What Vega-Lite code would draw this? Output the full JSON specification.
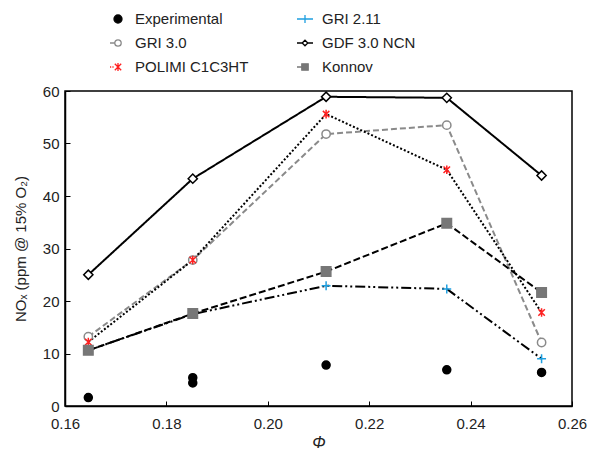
{
  "$schema": "https://vega.github.io/schema/vega-lite/v6.json",
  "width": 507,
  "height": 315,
  "autosize": {"type": "none"},
  "padding": {"left": 65, "top": 91, "right": 19, "bottom": 49},
  "background": "white",
  "config": {
    "font": "Liberation Sans",
    "view": {"stroke": "black", "strokeWidth": 1.5},
    "axis": {
      "grid": false,
      "domainColor": "black",
      "domainWidth": 1.5,
      "tickColor": "black",
      "tickSize": -5,
      "tickWidth": 1,
      "labelFlush": false,
      "labelFontSize": 15,
      "labelColor": "#222",
      "labelPadding": 11,
      "titleFontSize": 15,
      "titleFontWeight": "normal",
      "titleColor": "#222"
    },
    "legend": {
      "orient": "none",
      "legendX": 44,
      "legendY": -81,
      "columns": 2,
      "columnPadding": 45,
      "rowPadding": 7,
      "symbolSize": 256,
      "symbolStrokeWidth": 1.3,
      "labelFontSize": 15,
      "labelColor": "#222",
      "labelOffset": 8,
      "padding": 0
    }
  },
  "data": {
    "values": [
      {"model": "Experimental", "phi": 0.1646, "nox": 1.6},
      {"model": "Experimental", "phi": 0.1852, "nox": 5.4},
      {"model": "Experimental", "phi": 0.1852, "nox": 4.4},
      {"model": "Experimental", "phi": 0.2115, "nox": 7.8},
      {"model": "Experimental", "phi": 0.2353, "nox": 6.9},
      {"model": "Experimental", "phi": 0.254, "nox": 6.4},
      {"model": "GRI 3.0", "phi": 0.1646, "nox": 13.2},
      {"model": "GRI 3.0", "phi": 0.1852, "nox": 27.8},
      {"model": "GRI 3.0", "phi": 0.2115, "nox": 51.8},
      {"model": "GRI 3.0", "phi": 0.2353, "nox": 53.5},
      {"model": "GRI 3.0", "phi": 0.254, "nox": 12.1},
      {"model": "POLIMI C1C3HT", "phi": 0.1646, "nox": 12.2},
      {"model": "POLIMI C1C3HT", "phi": 0.1852, "nox": 27.8},
      {"model": "POLIMI C1C3HT", "phi": 0.2115, "nox": 55.6},
      {"model": "POLIMI C1C3HT", "phi": 0.2353, "nox": 45.0},
      {"model": "POLIMI C1C3HT", "phi": 0.254, "nox": 17.8},
      {"model": "GRI 2.11", "phi": 0.1646, "nox": 10.6},
      {"model": "GRI 2.11", "phi": 0.1852, "nox": 17.5},
      {"model": "GRI 2.11", "phi": 0.2115, "nox": 22.9},
      {"model": "GRI 2.11", "phi": 0.2353, "nox": 22.3},
      {"model": "GRI 2.11", "phi": 0.254, "nox": 9.0},
      {"model": "GDF 3.0 NCN", "phi": 0.1646, "nox": 25.0},
      {"model": "GDF 3.0 NCN", "phi": 0.1852, "nox": 43.3},
      {"model": "GDF 3.0 NCN", "phi": 0.2115, "nox": 58.9},
      {"model": "GDF 3.0 NCN", "phi": 0.2353, "nox": 58.7},
      {"model": "GDF 3.0 NCN", "phi": 0.254, "nox": 43.9},
      {"model": "Konnov", "phi": 0.1646, "nox": 10.6},
      {"model": "Konnov", "phi": 0.1852, "nox": 17.6},
      {"model": "Konnov", "phi": 0.2115, "nox": 25.6},
      {"model": "Konnov", "phi": 0.2353, "nox": 34.8},
      {"model": "Konnov", "phi": 0.254, "nox": 21.6}
    ]
  },
  "encoding": {
    "x": {
      "field": "phi",
      "type": "quantitative",
      "scale": {"domain": [0.16, 0.26], "nice": false, "zero": false},
      "axis": {
        "values": [0.16, 0.18, 0.2, 0.22, 0.24, 0.26],
        "format": ".2f",
        "labelPadding": 15,
        "title": "Φ",
        "titleFontStyle": "italic",
        "titleFontSize": 16,
        "titlePadding": 3
      }
    },
    "y": {
      "field": "nox",
      "type": "quantitative",
      "scale": {"domain": [0, 60], "nice": false},
      "axis": {
        "values": [0, 10, 20, 30, 40, 50, 60],
        "title": "NOₓ (ppm @ 15% O₂)",
        "titlePadding": 14
      }
    }
  },
  "layer": [
    {
      "transform": [{"filter": "datum.model !== 'Experimental'"}],
      "mark": {"type": "line"},
      "encoding": {
        "stroke": {
          "field": "model",
          "type": "nominal",
          "scale": {
            "domain": ["GRI 3.0", "POLIMI C1C3HT", "GRI 2.11", "GDF 3.0 NCN", "Konnov"],
            "range": ["#8a8a8a", "black", "black", "black", "black"]
          },
          "legend": null
        },
        "strokeDash": {
          "field": "model",
          "type": "nominal",
          "scale": {
            "domain": ["GRI 3.0", "POLIMI C1C3HT", "GRI 2.11", "GDF 3.0 NCN", "Konnov"],
            "range": [[6, 3], [2, 2], [10, 3, 2, 3, 2, 3], [1, 0], [7, 3]]
          },
          "legend": null
        },
        "strokeWidth": {
          "field": "model",
          "type": "nominal",
          "scale": {
            "domain": ["GRI 3.0", "POLIMI C1C3HT", "GRI 2.11", "GDF 3.0 NCN", "Konnov"],
            "range": [2, 2, 2, 1.3, 2]
          },
          "legend": null
        }
      }
    },
    {
      "mark": {"type": "point", "strokeWidth": 1.5, "opacity": 1},
      "encoding": {
        "shape": {
          "field": "model",
          "type": "nominal",
          "scale": {
            "domain": ["Experimental", "GRI 3.0", "POLIMI C1C3HT", "GRI 2.11", "GDF 3.0 NCN", "Konnov"],
            "range": ["circle", "circle", "M-0.75,-0.75L0.75,0.75M-0.75,0.75L0.75,-0.75M0,-1V1", "M-1,0H1M0,-1V1", "diamond", "square"]
          },
          "legend": null
        },
        "fill": {
          "field": "model",
          "type": "nominal",
          "scale": {
            "domain": ["Experimental", "GRI 3.0", "POLIMI C1C3HT", "GRI 2.11", "GDF 3.0 NCN", "Konnov"],
            "range": ["black", "white", "transparent", "transparent", "white", "#777777"]
          },
          "legend": null
        },
        "stroke": {
          "field": "model",
          "type": "nominal",
          "scale": {
            "domain": ["Experimental", "GRI 3.0", "POLIMI C1C3HT", "GRI 2.11", "GDF 3.0 NCN", "Konnov"],
            "range": ["black", "#8a8a8a", "#ff2020", "#1e9fe0", "black", "#777777"]
          },
          "legend": null
        },
        "size": {
          "field": "model",
          "type": "nominal",
          "scale": {
            "domain": ["Experimental", "GRI 3.0", "POLIMI C1C3HT", "GRI 2.11", "GDF 3.0 NCN", "Konnov"],
            "range": [64, 90, 130, 120, 40, 100]
          },
          "legend": null
        }
      }
    },
    {
      "data": {"values": []},
      "mark": {"type": "point", "strokeWidth": 1.3, "opacity": 1},
      "encoding": {
        "shape": {
          "field": "model",
          "type": "nominal",
          "scale": {
            "domain": ["Experimental", "GRI 3.0", "POLIMI C1C3HT", "GRI 2.11", "GDF 3.0 NCN", "Konnov"],
            "range": [
              "M-0.5,0A0.5,0.5 0 1,1 0.5,0A0.5,0.5 0 1,1 -0.5,0Z",
              "M-1,0H-0.4M-0.4,0A0.4,0.4 0 1,1 0.4,0A0.4,0.4 0 1,1 -0.4,0Z",
              "M-1,0H-0.85M-0.7,0H-0.55M-0.4,-0.4L0.4,0.4M-0.4,0.4L0.4,-0.4M0,-0.5V0.5",
              "M-1,0H1M0,-0.5V0.5",
              "M-1,0H-0.35M0.35,0H1M-0.35,0L0,-0.35L0.35,0L0,0.35Z",
              "M-1,0H-0.4M-0.4,-0.4H0.4V0.4H-0.4Z"
            ]
          },
          "legend": {"title": null}
        },
        "fill": {
          "field": "model",
          "type": "nominal",
          "scale": {
            "domain": ["Experimental", "GRI 3.0", "POLIMI C1C3HT", "GRI 2.11", "GDF 3.0 NCN", "Konnov"],
            "range": ["black", "white", "transparent", "transparent", "white", "#777777"]
          },
          "legend": {"title": null}
        },
        "stroke": {
          "field": "model",
          "type": "nominal",
          "scale": {
            "domain": ["Experimental", "GRI 3.0", "POLIMI C1C3HT", "GRI 2.11", "GDF 3.0 NCN", "Konnov"],
            "range": ["black", "#8a8a8a", "#ff2020", "#1e9fe0", "black", "#777777"]
          },
          "legend": {"title": null}
        }
      }
    }
  ],
  "resolve": {
    "scale": {
      "shape": "independent",
      "fill": "independent",
      "stroke": "independent",
      "size": "independent",
      "strokeDash": "independent",
      "strokeWidth": "independent"
    },
    "legend": {
      "shape": "independent",
      "fill": "independent",
      "stroke": "independent",
      "size": "independent",
      "strokeDash": "independent",
      "strokeWidth": "independent"
    }
  }
}
